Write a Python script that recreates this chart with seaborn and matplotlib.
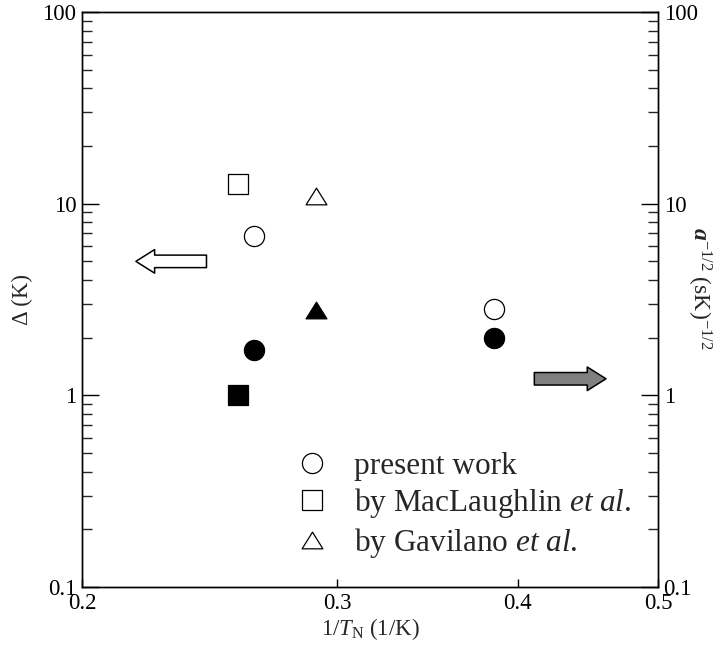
import matplotlib
matplotlib.use("Agg")
import matplotlib.pyplot as plt
from matplotlib.lines import Line2D
from matplotlib.patches import FancyArrowPatch
from matplotlib.path import Path
from matplotlib.ticker import FixedLocator, NullLocator, LogLocator, FixedFormatter
import seaborn as sns
import pandas as pd

# ---------------- data ----------------
sources = ["present work", "by MacLaughlin", "by Gavilano"]
x_present = [0.263, 0.385]
delta_present = [6.8, 2.83]
a_present = [1.73, 1.99]
x_mac = [0.2565]
delta_mac = [12.7]
a_mac = [1.0]
x_gav = [0.290]
delta_gav = [10.9]
a_gav = [2.78]

x_ticks = [0.2, 0.3, 0.4, 0.5]
x_ticklabels = ["0.2", "0.3", "0.4", "0.5"]
y_ticks = [0.1, 1, 10, 100]
y_ticklabels = ["0.1", "1", "10", "100"]
legend_labels = ["present work",
                 r"by MacLaughlin $\mathit{et\ al}$.",
                 r"by Gavilano $\mathit{et\ al}$."]

rows = []
for src, xs, ds, As in [(sources[0], x_present, delta_present, a_present),
                        (sources[1], x_mac, delta_mac, a_mac),
                        (sources[2], x_gav, delta_gav, a_gav)]:
    for xv, dv, av in zip(xs, ds, As):
        rows.append(dict(x=xv, delta=dv, a=av, source=src))
df = pd.DataFrame(rows)

# ---------------- style ----------------
sns.set_style("white")
plt.rcParams["font.family"] = ["Liberation Serif", "DejaVu Serif"]
plt.rcParams["mathtext.fontset"] = "custom"
plt.rcParams["mathtext.rm"] = "Liberation Serif"
plt.rcParams["mathtext.it"] = "Liberation Serif:italic"
plt.rcParams["mathtext.bf"] = "Liberation Serif:bold"
plt.rcParams["mathtext.bfit"] = "Liberation Serif:bold:italic"

W, H = 723, 652
fig = plt.figure(figsize=(W / 100, H / 100), dpi=100)
L, R, T, B = 82, 658, 12, 587
ax = fig.add_axes([L / W, (H - B) / H, (R - L) / W, (B - T) / H])
ax2 = ax.twinx()

tri = Path([(0, 0.8), (-1, -0.8), (1, -0.8), (0, 0.8)],
           [Path.MOVETO, Path.LINETO, Path.LINETO, Path.CLOSEPOLY])
markers = {sources[0]: "o", sources[1]: "s", sources[2]: tri}
msize = {sources[0]: 14.5, sources[1]: 15, sources[2]: 15}

for src in sources:
    sub = df[df.source == src]
    sns.scatterplot(data=sub, x="x", y="delta", ax=ax, marker=markers[src],
                    s=msize[src] ** 2, facecolor="white", edgecolor="black",
                    linewidth=0.9, legend=False, zorder=3)
    sns.scatterplot(data=sub, x="x", y="a", ax=ax2, marker=markers[src],
                    s=msize[src] ** 2, color="black", edgecolor="black",
                    linewidth=0.9, legend=False, zorder=3)

for a_ in (ax, ax2):
    a_.set_xscale("log")
    a_.set_yscale("log")
    a_.set_xlim(0.2, 0.5)
    a_.set_ylim(0.1, 100)
    a_.yaxis.set_major_locator(FixedLocator(y_ticks))
    a_.yaxis.set_major_formatter(FixedFormatter(y_ticklabels))
    a_.yaxis.set_minor_locator(LogLocator(base=10, subs=range(2, 10)))
    a_.yaxis.set_minor_formatter(FixedFormatter([]))
    for sp in a_.spines.values():
        sp.set_linewidth(1.0)
        sp.set_color("black")
    a_.set_xlabel("")
    a_.set_ylabel("")

FS = 16.5
ax.xaxis.set_major_locator(FixedLocator(x_ticks))
ax.xaxis.set_major_formatter(FixedFormatter(x_ticklabels))
ax.xaxis.set_minor_locator(NullLocator())
ax.tick_params(axis="x", which="major", direction="in", length=6, width=1,
               top=False, bottom=True, labelsize=FS, pad=4, colors="black")
ax.tick_params(axis="y", which="major", direction="in", length=12, width=1,
               left=True, right=False, labelsize=FS, pad=4, colors="black")
ax.tick_params(axis="y", which="minor", direction="in", length=7, width=1,
               left=True, right=False)
ax2.tick_params(axis="y", which="major", direction="in", length=12, width=1,
                left=False, right=True, labelsize=FS, pad=4, colors="black")
ax2.tick_params(axis="y", which="minor", direction="in", length=7, width=1,
                left=False, right=True)

ax.set_xlabel(r"1/$T_{\rm N}$ (1/K)", fontsize=FS, labelpad=2)
ax.set_ylabel("Δ (K)", fontsize=FS, labelpad=7)
ax2.set_ylabel(r"$\mathbfit{a}^{-1/2}$ (sK)$^{-1/2}$", fontsize=17,
               rotation=270, labelpad=12)
ax2.yaxis.set_label_coords(1.095, 0.52)

# ---------------- arrows ----------------
arrow_left = ((0.2438, 5.0), (0.2179, 5.0))
arrow_right = ((0.4107, 1.22), (0.4603, 1.22))
style = "simple,head_length=13.5,head_width=17,tail_width=9"
ax.add_patch(FancyArrowPatch(arrow_left[0], arrow_left[1], arrowstyle=style,
                             mutation_scale=1, shrinkA=0, shrinkB=0,
                             facecolor="white", edgecolor="black",
                             linewidth=1.1, zorder=4))
ax2.add_patch(FancyArrowPatch(arrow_right[0], arrow_right[1], arrowstyle=style,
                              mutation_scale=1, shrinkA=0, shrinkB=0,
                              facecolor="#808080", edgecolor="black",
                              linewidth=1.1, zorder=4))

# ---------------- legend ----------------
handles = [
    Line2D([], [], linestyle="none", marker=markers[s], markersize=msize[s],
           markerfacecolor="white", markeredgecolor="black", markeredgewidth=0.9)
    for s in sources
]
leg = ax2.legend(handles, legend_labels, loc="upper left",
                 bbox_to_anchor=((296 - L) / (R - L), (B - 452) / (B - T)),
                 frameon=False, fontsize=22.5, handlelength=1.0,
                 handletextpad=0.85, labelspacing=0.17, borderaxespad=0,
                 borderpad=0)

fig.savefig("out.png", dpi=100)
